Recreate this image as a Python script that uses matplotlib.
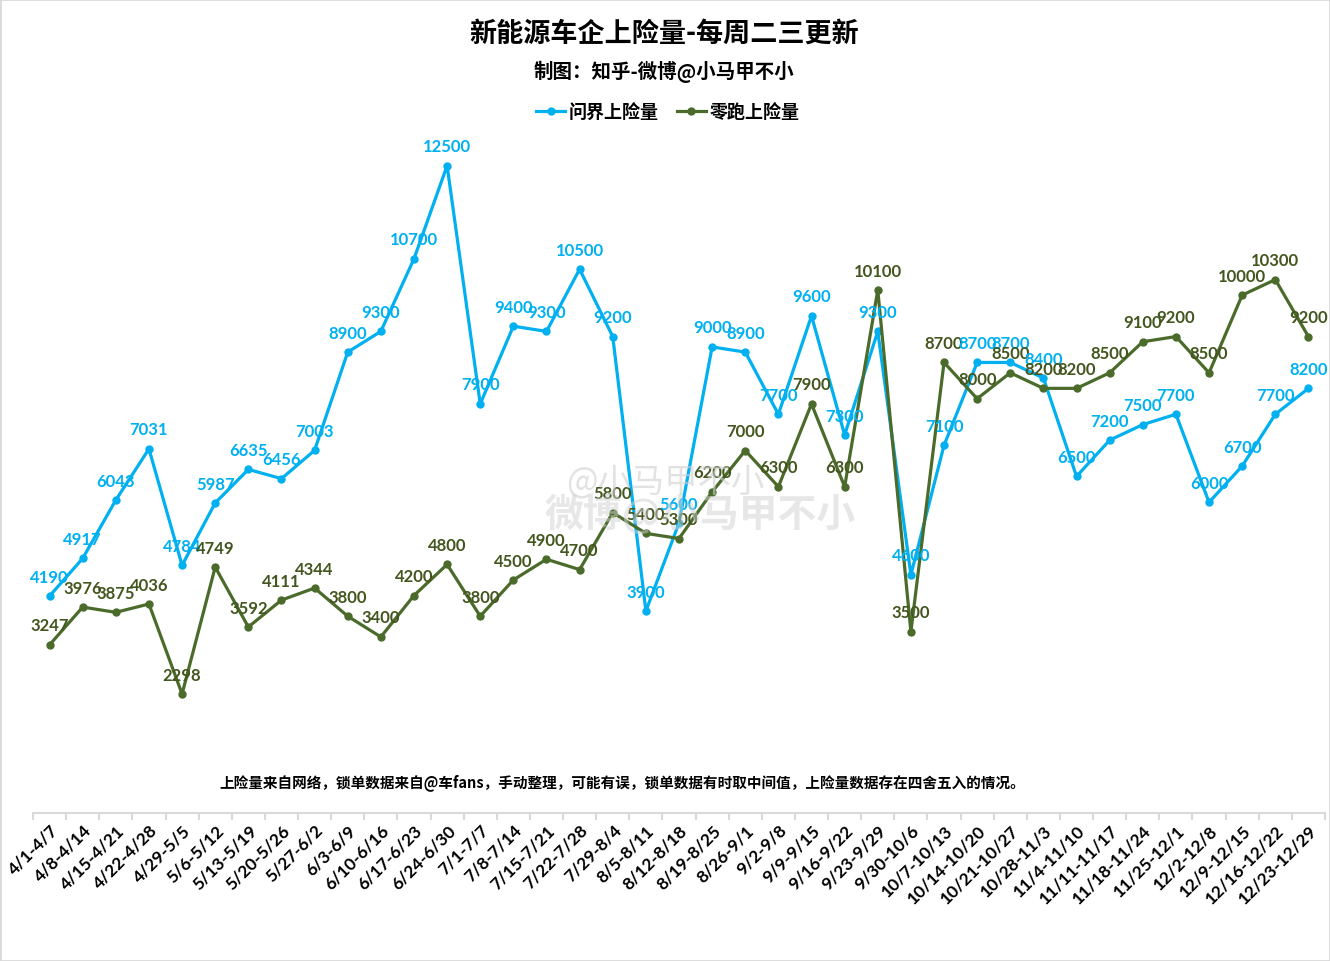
import matplotlib
matplotlib.use("Agg")
import matplotlib.pyplot as plt
import numpy as np
from matplotlib.patches import Rectangle

plt.rcParams['font.family'] = ['Noto Sans CJK SC', 'DejaVu Sans']

weeks = ["4/1-4/7", "4/8-4/14", "4/15-4/21", "4/22-4/28", "4/29-5/5", "5/6-5/12",
         "5/13-5/19", "5/20-5/26", "5/27-6/2", "6/3-6/9", "6/10-6/16", "6/17-6/23",
         "6/24-6/30", "7/1-7/7", "7/8-7/14", "7/15-7/21", "7/22-7/28", "7/29-8/4",
         "8/5-8/11", "8/12-8/18", "8/19-8/25", "8/26-9/1", "9/2-9/8", "9/9-9/15",
         "9/16-9/22", "9/23-9/29", "9/30-10/6", "10/7-10/13", "10/14-10/20",
         "10/21-10/27", "10/28-11/3", "11/4-11/10", "11/11-11/17", "11/18-11/24",
         "11/25-12/1", "12/2-12/8", "12/9-12/15", "12/16-12/22", "12/23-12/29"]

wenjie = [4190, 4917, 6043, 7031, 4784, 5987, 6635, 6456, 7003, 8900, 9300, 10700,
          12500, 7900, 9400, 9300, 10500, 9200, 3900, 5600, 9000, 8900, 7700, 9600,
          7300, 9300, 4600, 7100, 8700, 8700, 8400, 6500, 7200, 7500, 7700, 6000,
          6700, 7700, 8200]

leapmotor = [3247, 3976, 3875, 4036, 2298, 4749, 3592, 4111, 4344, 3800, 3400, 4200,
             4800, 3800, 4500, 4900, 4700, 5800, 5400, 5300, 6200, 7000, 6300, 7900,
             6300, 10100, 3500, 8700, 8000, 8500, 8200, 8200, 8500, 9100, 9200, 8500,
             10000, 10300, 9200]

BLUE = "#00B0F0"
GREEN = "#4B6B2B"
GREEN_TXT = "#42561E"
num_font = ['Lato', 'Noto Sans CJK SC']

fig = plt.figure(figsize=(13.3, 9.62), dpi=100)
ax = fig.add_axes([33 / 1330, 148 / 962, 1292 / 1330, 725 / 962])
fig.patches.append(Rectangle((0, 0), 1, 1, transform=fig.transFigure, fill=False,
                             edgecolor="#d9d9d9", linewidth=2))

x = np.arange(len(weeks))
ax.plot(x, wenjie, color=BLUE, lw=2.3, marker='o', ms=5, label="问界上险量")
ax.plot(x, leapmotor, color=GREEN, lw=2.3, marker='o', ms=5, label="零跑上险量")

# 数据标签，放在点的上方
for i in x:
    ax.annotate(str(wenjie[i]), (i, wenjie[i]), xytext=(0, 14), textcoords='offset points',
                ha='center', va='center', color=BLUE, fontsize=12, fontweight='bold',
                family=num_font)
    ax.annotate(str(leapmotor[i]), (i, leapmotor[i]), xytext=(0, 14), textcoords='offset points',
                ha='center', va='center', color=GREEN_TXT, fontsize=12, fontweight='bold',
                family=num_font)

ax.set_xlim(-0.5, len(weeks) - 0.5)
ax.set_ylim(0, 14000)
ax.set_yticks([])
for s in ['left', 'right', 'top']:
    ax.spines[s].set_visible(False)
ax.spines['bottom'].set_color("#d9d9d9")
ax.spines['bottom'].set_linewidth(1.5)

ax.set_xticks(x)
ax.set_xticklabels(weeks, rotation=45, ha='right', rotation_mode='anchor',
                   fontsize=12.5, fontweight='bold', family=num_font)
ax.tick_params(axis='x', which='major', length=0, pad=6)
ax.set_xticks(np.arange(-0.5, len(weeks)), minor=True)
ax.tick_params(axis='x', which='minor', length=5, color="#d9d9d9", width=1.5)

fig.text(622 / 1330, 1 - 783 / 962,
         "上险量来自网络，锁单数据来自@车fans，手动整理，可能有误，锁单数据有时取中间值，上险量数据存在四舍五入的情况。",
         ha='center', va='center', fontsize=10.5, fontweight='bold')

# 水印
fig.text(665 / 1330, 1 - 482 / 962, "@小马甲不小", fontsize=24, color="#d0d0d0", alpha=0.6,
         ha='center', va='center')
fig.text(700 / 1330, 1 - 515 / 962, "微博@小马甲不小", fontsize=28, color="#d0d0d0", alpha=0.5,
         ha='center', va='center', fontweight='bold')

fig.text(664 / 1330, 1 - 34 / 962, "新能源车企上险量-每周二三更新", ha='center', va='center',
         fontsize=19.5, fontweight='bold')
fig.text(664 / 1330, 1 - 72 / 962, "制图：知乎-微博@小马甲不小", ha='center', va='center',
         fontsize=14, fontweight='bold')
fig.legend(loc='center', bbox_to_anchor=(668 / 1330, 1 - 113 / 962), ncol=2, frameon=False,
           prop={'weight': 'bold', 'size': 13}, handlelength=1.6, handletextpad=0.2,
           columnspacing=1.0)

fig.savefig("out.png", dpi=100)
